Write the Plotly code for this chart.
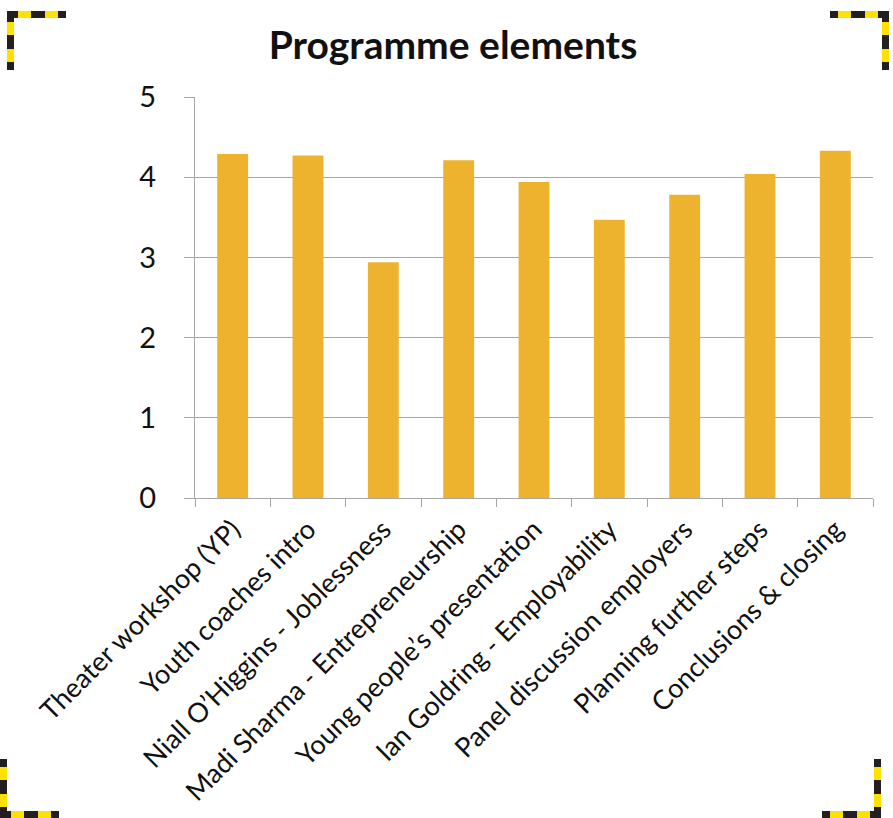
import plotly.graph_objects as go

# Programme element ratings (scale 0-5)
categories = [
    "Theater workshop (YP)",
    "Youth coaches intro",
    "Niall O\u2019Higgins - Joblessness",
    "Madi Sharma - Entrepreneurship",
    "Young people\u2019s presentation",
    "Ian Goldring - Employability",
    "Panel discussion employers",
    "Planning further steps",
    "Conclusions & closing",
]
scores = [4.29, 4.27, 2.94, 4.21, 3.94, 3.47, 3.78, 4.04, 4.33]
y_ticks = [0, 1, 2, 3, 4, 5]

W, H = 893, 818
ML, MR, MT, MB = 195, 20, 97, 320
PW, PH = W - ML - MR, H - MT - MB

FONT = "Lato"
BAR = "#EDB32F"
GRID = "#A6A6A6"


def px(x):
    return (x - ML) / PW


def py(y):
    return (H - MB - y) / PH


# Dashed black/yellow corner brackets around the chart
segments = [(0, 11, "#231F20"), (11, 24, "#FFE100"), (24, 38, "#231F20"),
            (38, 51, "#FFE100"), (51, 59, "#231F20")]
corners = [(7, 11, 1, 1), (889, 11, -1, 1), (0, 818, 1, -1), (881, 818, -1, -1)]
T = 7
shapes = []
for cx, cy, dx, dy in corners:
    for a, b, col in segments:
        # horizontal arm
        x0, x1 = sorted([cx + dx * a, cx + dx * b])
        y0, y1 = sorted([cy, cy + dy * T])
        shapes.append(dict(type="rect", xref="paper", yref="paper",
                           x0=px(x0), x1=px(x1), y0=py(y1), y1=py(y0),
                           fillcolor=col, line=dict(width=0), layer="above"))
        # vertical arm
        x0, x1 = sorted([cx, cx + dx * T])
        y0, y1 = sorted([cy + dy * a, cy + dy * b])
        shapes.append(dict(type="rect", xref="paper", yref="paper",
                           x0=px(x0), x1=px(x1), y0=py(y1), y1=py(y0),
                           fillcolor=col, line=dict(width=0), layer="above"))

fig = go.Figure(go.Bar(x=categories, y=scores, marker=dict(color=BAR, line=dict(width=0)),
                       width=0.41))

fig.update_layout(
    width=W, height=H,
    margin=dict(l=ML, r=MR, t=MT, b=MB),
    paper_bgcolor="white", plot_bgcolor="white",
    showlegend=False,
    title=dict(text="<b>Programme elements</b>", x=453 / W, xanchor="center",
               y=1 - 45 / H, yanchor="middle",
               font=dict(family=FONT, size=39, color="#111111")),
    shapes=shapes,
)
fig.update_yaxes(range=[0, 5], tickvals=y_ticks, showgrid=True, gridcolor=GRID, gridwidth=1,
                 showline=True, linecolor=GRID, linewidth=1, ticks="outside", ticklen=10,
                 tickcolor=GRID, zeroline=False, ticklabelstandoff=22, automargin=False,
                 tickfont=dict(family=FONT, size=29, color="#111111"))
fig.update_xaxes(tickangle=-45, showline=True, linecolor=GRID, linewidth=1,
                 ticks="outside", ticklen=8, tickcolor=GRID, tickson="boundaries",
                 ticklabelstandoff=4, automargin=False,
                 tickfont=dict(family=FONT, size=27, color="#111111"))

fig.write_html("out.html")
